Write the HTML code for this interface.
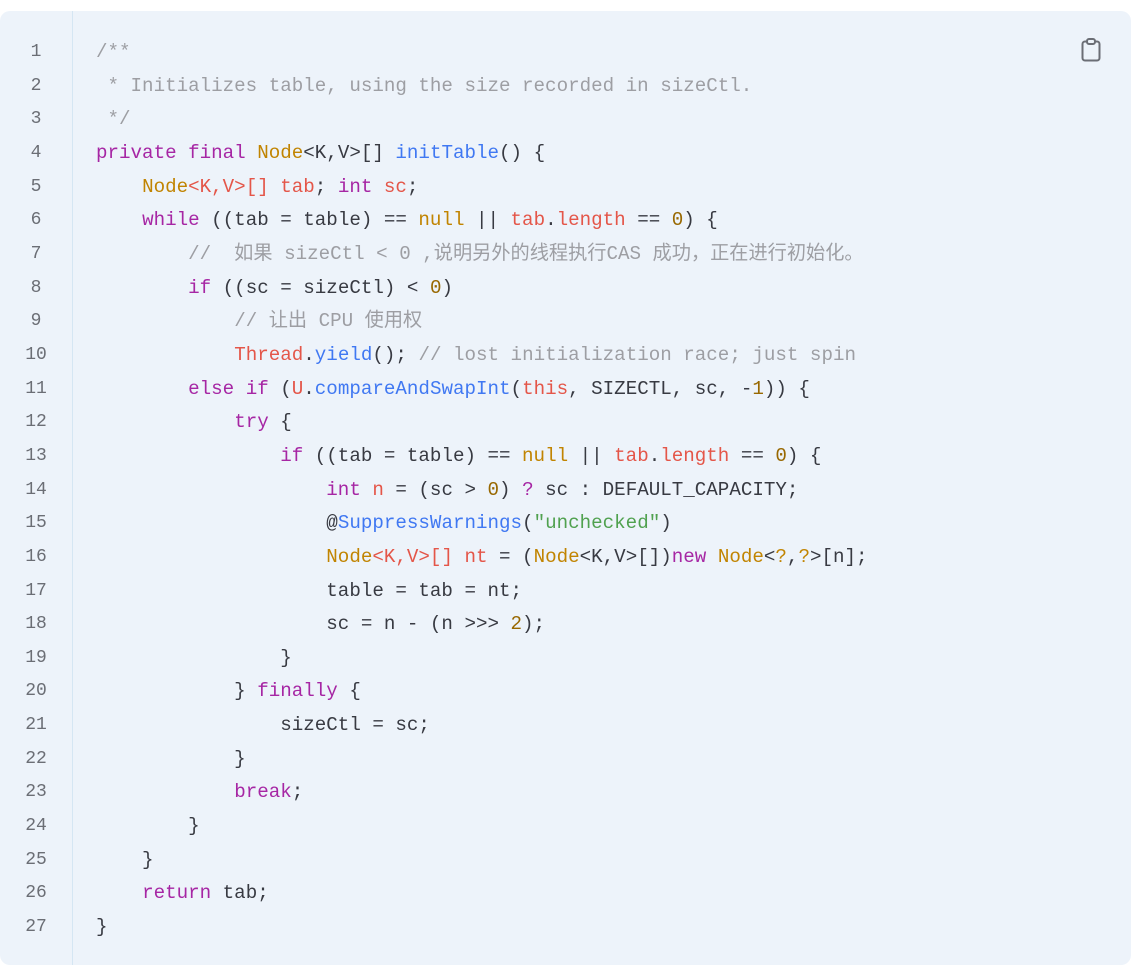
<!DOCTYPE html>
<html><head><meta charset="utf-8"><style>
html,body{margin:0;padding:0;background:#fff;width:1141px;height:975px;overflow:hidden}
.box{position:absolute;left:0;top:11px;width:1131px;height:954px;background:#edf3fa;border-radius:10px}
.gut{position:absolute;left:72px;top:0;width:1px;height:954px;background:#d5e6f3}
.ln{position:absolute;left:0;width:72px;text-align:center;color:#6b6e75;font:18px/33.65px "Liberation Mono","DejaVu Sans Mono",monospace}
.code{position:absolute;left:96px;top:36px;font:19.2px/33.65px "Liberation Mono","Noto Sans CJK SC",monospace;color:#383a42;white-space:pre}
.c{color:#9d9ea3}.k{color:#a626a4}.t{color:#c18401}.r{color:#e45649}.f{color:#4078f2}.n{color:#986801}.s{color:#50a14f}
.clip{position:absolute;left:1081px;top:38px}
</style></head><body>
<div class="box"><div class="gut"></div></div>
<div class="ln" style="top:36px">1<br>2<br>3<br>4<br>5<br>6<br>7<br>8<br>9<br>10<br>11<br>12<br>13<br>14<br>15<br>16<br>17<br>18<br>19<br>20<br>21<br>22<br>23<br>24<br>25<br>26<br>27</div>
<svg class="clip" width="20" height="24" viewBox="0 0 20 24"><rect x="1.5" y="3.5" width="17" height="19" rx="2.5" fill="none" stroke="#6b6e75" stroke-width="2"/><rect x="6" y="1" width="8" height="5" rx="2" fill="#edf3fa" stroke="#6b6e75" stroke-width="2"/></svg>
<div class="code"><span class="c">/**
 * Initializes table, using the size recorded in sizeCtl.
 */</span>
<span class="k">private</span> <span class="k">final</span> <span class="t">Node</span>&lt;K,V&gt;[] <span class="f">initTable</span>() {
    <span class="t">Node</span><span class="r">&lt;K,V&gt;[] tab</span>; <span class="k">int</span> <span class="r">sc</span>;
    <span class="k">while</span> ((tab = table) == <span class="t">null</span> || <span class="r">tab</span>.<span class="r">length</span> == <span class="n">0</span>) {
        <span class="c">//  如果 sizeCtl &lt; 0 ,说明另外的线程执行CAS 成功，正在进行初始化。</span>
        <span class="k">if</span> ((sc = sizeCtl) &lt; <span class="n">0</span>)
            <span class="c">// 让出 CPU 使用权</span>
            <span class="r">Thread</span>.<span class="f">yield</span>(); <span class="c">// lost initialization race; just spin</span>
        <span class="k">else</span> <span class="k">if</span> (<span class="r">U</span>.<span class="f">compareAndSwapInt</span>(<span class="r">this</span>, SIZECTL, sc, -<span class="n">1</span>)) {
            <span class="k">try</span> {
                <span class="k">if</span> ((tab = table) == <span class="t">null</span> || <span class="r">tab</span>.<span class="r">length</span> == <span class="n">0</span>) {
                    <span class="k">int</span> <span class="r">n</span> = (sc &gt; <span class="n">0</span>) <span class="k">?</span> sc : DEFAULT_CAPACITY;
                    @<span class="f">SuppressWarnings</span>(<span class="s">"unchecked"</span>)
                    <span class="t">Node</span><span class="r">&lt;K,V&gt;[] nt</span> = (<span class="t">Node</span>&lt;K,V&gt;[])<span class="k">new</span> <span class="t">Node</span>&lt;<span class="t">?</span>,<span class="t">?</span>&gt;[n];
                    table = tab = nt;
                    sc = n - (n &gt;&gt;&gt; <span class="n">2</span>);
                }
            } <span class="k">finally</span> {
                sizeCtl = sc;
            }
            <span class="k">break</span>;
        }
    }
    <span class="k">return</span> tab;
}</div>
</body></html>
